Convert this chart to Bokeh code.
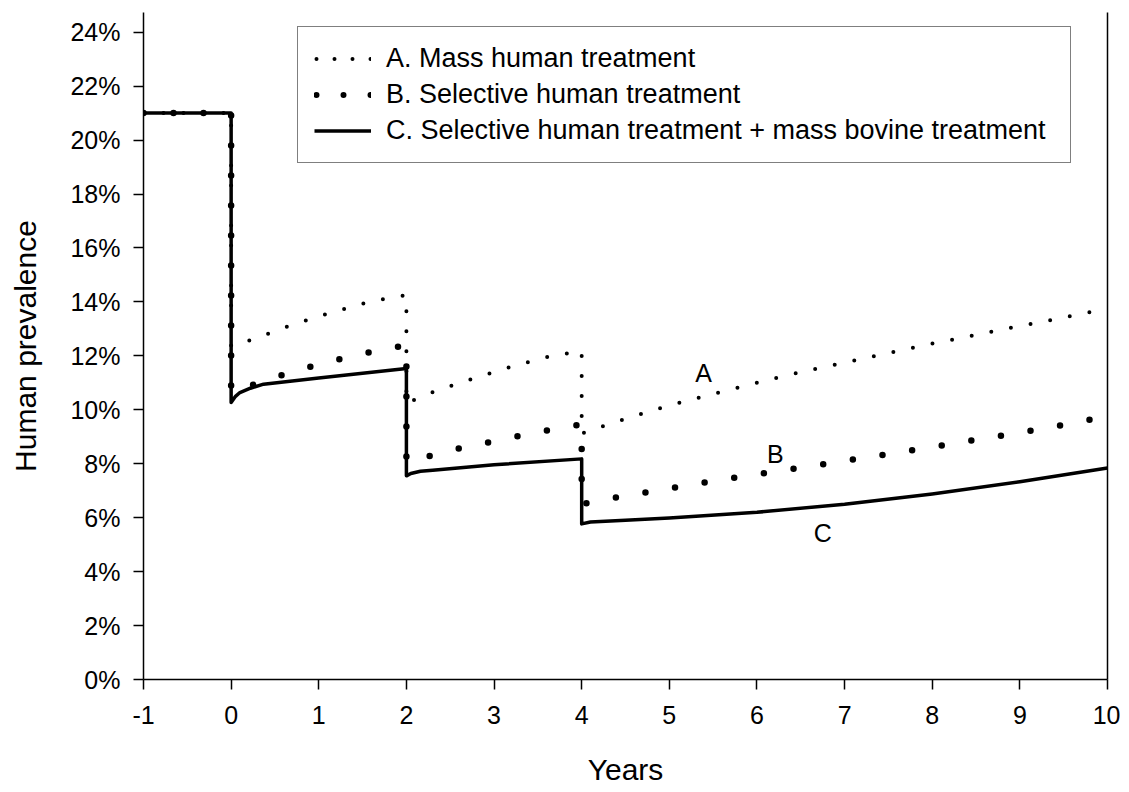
from bokeh.plotting import figure
from bokeh.models import (ColumnDataSource, FixedTicker, LinearAxis, Legend, LegendItem,
                          Label, Range1d)
from bokeh.embed import file_html
from bokeh.resources import INLINE

# ---------------- data ----------------
years_A = [-1, 0, 0, 0.26, 0.71, 1.15, 1.6, 2, 2, 2.32, 2.76, 3.21, 3.66, 4, 4, 4.42, 4.87,
           5.31, 5.75, 6.19, 6.64, 7.1, 7.54, 7.98, 8.43, 8.87, 9.31, 9.75, 10]
prev_A = [21, 21, 12.35, 12.62, 13.17, 13.61, 14.02, 14.25, 10.25, 10.68, 11.16, 11.61, 12.0,
          12.18, 9.12, 9.58, 10.04, 10.43, 10.79, 11.16, 11.5, 11.82, 12.13, 12.44, 12.73,
          13.02, 13.30, 13.59, 13.73]

years_B = [-1, 0, 0, 0.36, 0.69, 1.02, 1.36, 1.69, 2, 2, 2.30, 2.63, 2.96, 3.29, 3.63, 4, 4,
           4.33, 4.99, 5.65, 6.32, 6.99, 7.66, 8.32, 8.99, 9.65, 10]
prev_B = [21, 21, 10.65, 11.05, 11.41, 11.69, 11.98, 12.21, 12.4, 8.05, 8.32, 8.59, 8.81,
          9.03, 9.25, 9.46, 6.5, 6.71, 7.08, 7.44, 7.77, 8.10, 8.44, 8.79, 9.15, 9.53, 9.78]

years_C = [-1, 0, 0, 0.05, 0.1, 0.22, 0.37, 1.0, 2, 2, 2.05, 2.16, 2.3, 3.0, 4, 4, 4.1, 4.5,
           5, 6, 7, 8, 9, 10]
prev_C = [21, 21, 10.27, 10.5, 10.64, 10.8, 10.95, 11.18, 11.53, 7.55, 7.64, 7.72, 7.76, 7.96,
          8.18, 5.77, 5.84, 5.9, 5.99, 6.2, 6.5, 6.88, 7.33, 7.84]

series_labels = ["A. Mass human treatment",
                 "B. Selective human treatment",
                 "C. Selective human treatment + mass bovine treatment"]
curve_tags = ["A", "B", "C"]

x_ticks = [-1, 0, 1, 2, 3, 4, 5, 6, 7, 8, 9, 10]
x_tick_labels = ["-1", "0", "1", "2", "3", "4", "5", "6", "7", "8", "9", "10"]
y_ticks = [0, 2, 4, 6, 8, 10, 12, 14, 16, 18, 20, 22, 24]
y_tick_labels = ["0%", "2%", "4%", "6%", "8%", "10%", "12%", "14%", "16%", "18%", "20%",
                 "22%", "24%"]

# ---------------- figure ----------------
FONT = "Liberation Sans"
p = figure(width=1120, height=792, output_backend="svg", toolbar_location=None,
           x_range=Range1d(-1, 10), y_range=Range1d(0, 24.73),
           min_border_left=143, min_border_right=13, min_border_top=12,
           min_border_bottom=113)
p.outline_line_color = None
p.xgrid.visible = False
p.ygrid.visible = False
p.background_fill_color = "white"
p.border_fill_color = "white"

src_A = ColumnDataSource(dict(x=years_A, y=prev_A))
src_B = ColumnDataSource(dict(x=years_B, y=prev_B))
src_C = ColumnDataSource(dict(x=years_C, y=prev_C))

p.line("x", "y", source=src_C, line_color="black", line_width=3.5, line_join="round")
p.line("x", "y", source=src_A, line_color="black", line_width=4, line_dash="0 20",
       line_cap="round")
p.line("x", "y", source=src_B, line_color="black", line_width=6.5, line_dash="0 30",
       line_cap="round")

# legend-only glyphs (one invisible NaN point each)
nan = float("nan")
leg_A = p.line(x=[nan], y=[nan], line_color="black", line_width=4, line_dash="0 18",
               line_dash_offset=16, line_cap="round")
leg_B = p.line(x=[nan], y=[nan], line_color="black", line_width=6, line_dash="0 27",
               line_dash_offset=25, line_cap="round")
leg_C = p.line(x=[nan], y=[nan], line_color="black", line_width=3.5)

legend = Legend(items=[LegendItem(label=series_labels[0], renderers=[leg_A]),
                       LegendItem(label=series_labels[1], renderers=[leg_B]),
                       LegendItem(label=series_labels[2], renderers=[leg_C])],
                location=(154, 516))
legend.label_text_font = FONT
legend.label_text_font_size = "27px"
legend.label_text_color = "black"
legend.glyph_width = 57
legend.glyph_height = 29
legend.label_height = 29
legend.label_width = 668
legend.label_standoff = 15
legend.padding = 16
legend.spacing = 5
legend.margin = 0
legend.border_line_color = "black"
legend.border_line_width = 1.5
legend.background_fill_color = "white"
legend.background_fill_alpha = 1
p.add_layout(legend)

# axes
xa = p.xaxis[0]
xa.ticker = FixedTicker(ticks=x_ticks)
xa.major_label_overrides = {t: l for t, l in zip(x_ticks, x_tick_labels)}
xa.axis_label = "Years"
ya = p.yaxis[0]
ya.ticker = FixedTicker(ticks=y_ticks)
ya.major_label_overrides = {t: l for t, l in zip(y_ticks, y_tick_labels)}
ya.axis_label = "Human prevalence"
for ax in (xa, ya):
    ax.axis_line_color = "black"
    ax.axis_line_width = 1.5
    ax.major_tick_line_color = "black"
    ax.major_tick_line_width = 1.5
    ax.major_tick_out = 10
    ax.major_tick_in = 0
    ax.minor_tick_line_color = None
    ax.major_label_text_font = FONT
    ax.major_label_text_font_size = "25px"
    ax.major_label_text_color = "black"
    ax.axis_label_text_font = FONT
    ax.axis_label_text_font_size = "30px"
    ax.axis_label_text_font_style = "normal"
    ax.axis_label_text_color = "black"
ya.major_label_standoff = 13
ya.axis_label_standoff = 25
xa.major_label_standoff = 16
xa.axis_label_standoff = 26

right = LinearAxis(ticker=FixedTicker(ticks=[]), axis_line_color="black",
                   axis_line_width=1.5, major_label_text_font_size="0px",
                   major_tick_line_color=None, minor_tick_line_color=None)
p.add_layout(right, "right")

# curve tags
tag_pos = [(5.39, 11.37), (6.21, 8.37), (6.75, 5.45)]
for tag, (tx, ty) in zip(curve_tags, tag_pos):
    p.add_layout(Label(x=tx, y=ty, text=tag, text_font=FONT, text_font_size="25px",
                       text_color="black", text_align="center", text_baseline="middle"))

open("out.html", "w").write(file_html(p, INLINE))
